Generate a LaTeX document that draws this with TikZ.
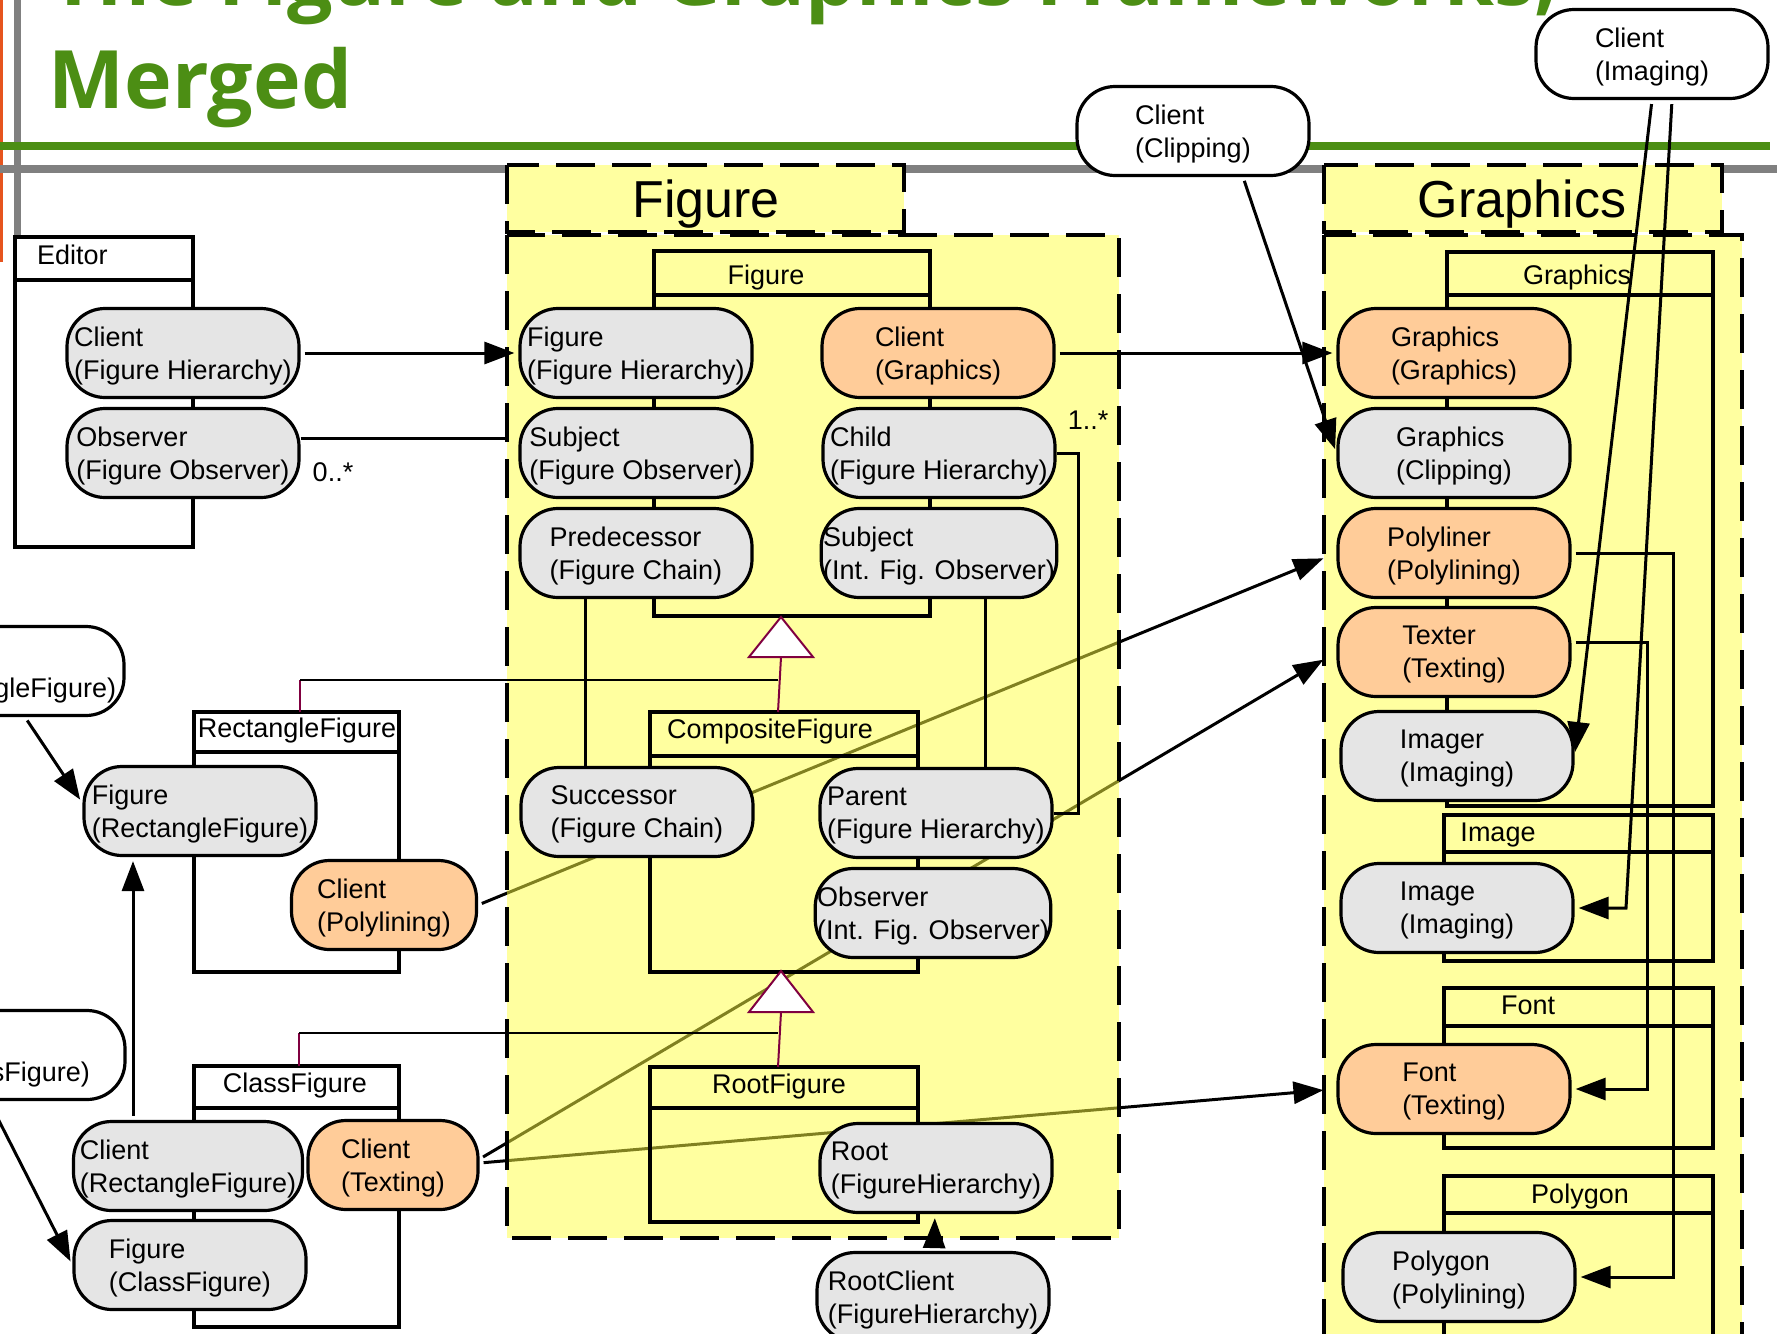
\documentclass[tikz,border=0pt]{standalone}
\usepackage{fontspec}
\setmainfont{Liberation Sans}
\newfontfamily\titlefont{Open Sans}
\usetikzlibrary{arrows.meta}
\definecolor{titlegreen}{RGB}{76,142,20}
\definecolor{rulegray}{RGB}{128,128,128}
\definecolor{ruleorange}{RGB}{230,84,30}
\definecolor{pkgyellow}{RGB}{255,255,160}
\definecolor{pkgyellowt}{RGB}{255,255,65}
\definecolor{rolegray}{RGB}{229,229,229}
\definecolor{roleorange}{RGB}{255,204,153}
\definecolor{genmaroon}{RGB}{128,0,64}
\pgfdeclarelayer{back}
\pgfdeclarelayer{mid}
\pgfsetlayers{back,mid,main}

\begin{document}
\begin{tikzpicture}
			[x=0.5pt,y=-0.5pt,every node/.style={font=\fontsize{13.5}{16.5}\selectfont},
			role/.style={draw,line width=1.6pt,rounded corners=19pt,fill=rolegray,minimum width=116pt,minimum height=44.5pt,inner sep=1pt,align=left,text depth=0pt},
			orole/.style={role,fill=roleorange}, wrole/.style={role,fill=white},
			cls/.style={draw,line width=1.6pt}, pkg/.style={draw,line width=2pt,dash pattern=on 19.5pt off 8.5pt},
			edge/.style={-{Triangle[length=15pt,width=11pt]},line width=1.5pt,shorten >=2pt,shorten <=2pt},
			assoc/.style={line width=1.5pt}, gen/.style={draw=genmaroon,line width=1pt},
			big/.style={font=\fontsize{26}{30}\selectfont}]
			\useasboundingbox (0,0) rectangle (1777,1333);

			\fill[pkgyellow] (507,165) rectangle (904,232);
			\draw[pkg] (507,165) rectangle (904,232);
			\draw[pkg] (507,235) rectangle (1119,1238);
			\draw[pkg] (1324,165) rectangle (1722,232);
			\draw[pkg] (1324,235) rectangle (1742,1345);
			\node[big] (figTitle) at (706,204) {Figure};
			\node[big] (graTitle) at (1522,204) {Graphics};

			\foreach \xa/\ya/\xb/\yh/\yb in {15/237/193/280/547,194/712/399/752/972,194/1066/399/1108/1327}
			\draw[cls,fill=white] (\xa,\ya) rectangle (\xb,\yh) (\xa,\yh) rectangle (\xb,\yb);
			\foreach \xa/\ya/\xb/\yh/\yb in {654/251/930/295/616,650/712/918/756/972,650/1067/918/1108/1222,1447/252/1713/295/806,1444/815/1713/852/961,1444/988/1713/1026/1148,1444/1176/1713/1213/1345}
			\draw[cls] (\xa,\ya) rectangle (\xb,\yh) (\xa,\yh) rectangle (\xb,\yb);

			\node[anchor=west] (edHead) at (30,255) {Editor};
			\node (figHead) at (766,278) {Figure};
			\node (compHead) at (770,732) {CompositeFigure};
			\node (rootHead) at (779,1087) {RootFigure};
			\node (rectHead) at (297,731) {RectangleFigure};
			\node (clsHead) at (295,1086) {ClassFigure};
			\node (graHead) at (1577,278) {Graphics};
			\node (imgHead) at (1498,835) {Image};
			\node (fontHead) at (1528,1005) {Font};
			\node (polyHead) at (1580,1197) {Polygon};

			\draw[gen,fill=white] (781,617) -- (813,657) -- (749,657) -- cycle;
			\draw[gen,fill=white] (781,971) -- (813,1012) -- (749,1012) -- cycle;
			\coordinate (gen1) at (781,657);
			\coordinate (gen2) at (781,1012);
			\coordinate (compTop) at (778,712);
			\coordinate (rootTop) at (778,1067);
			\coordinate (rectTop) at (300,712);
			\coordinate (clsTop) at (299,1066);
			\coordinate (rectJoin) at (300,680);
			\coordinate (compJoin) at (778,680);
			\coordinate (clsJoin) at (299,1033);
			\coordinate (rootJoin) at (778,1033);
			\draw[gen] (compTop) -- (gen1);
			\draw[gen] (rootTop) -- (gen2);
			\draw[gen] (rectTop) -- (rectJoin);
			\draw[gen] (clsTop) -- (clsJoin);
			\draw[line width=1.3pt] (rectJoin) -- (compJoin);
			\draw[line width=1.3pt] (clsJoin) -- (rootJoin);

			\draw[assoc] (585,0 |- 0,597) -- (585,0 |- 0,767);
			\draw[assoc] (985,0 |- 0,597) -- (985,0 |- 0,768);

			\node[role] (edCli) at (183,353) {Client\\(Figure Hierarchy)};
			\node[role] (edObs) at (183,453) {Observer\\(Figure Observer)};
			\node[role] (figFig) at (636,353) {Figure\\(Figure Hierarchy)};
			\node[orole] (figCli) at (938,353) {Client\\(Graphics)};
			\node[role] (figSubj) at (636,453) {Subject\\(Figure Observer)};
			\node[role] (figChild) at (939,453) {Child\\(Figure Hierarchy)};
			\node[role] (figPred) at (636,553) {Predecessor\\(Figure Chain)};
			\node[role] (figSubjInt) at (939,553) {Subject\\(Int. Fig. Observer)};
			\node[role] (cfSucc) at (637,812) {Successor\\(Figure Chain)};
			\node[role] (cfParent) at (936,813) {Parent\\(Figure Hierarchy)};
			\node[role] (cfObs) at (933,913) {Observer\\(Int. Fig. Observer)};
			\node[role] (rfRoot) at (936,1168) {Root\\(FigureHierarchy)};
			\node[role] (rootCli) at (933,1297) {RootClient\\(FigureHierarchy)};
			\node[wrole] (leftRect) at (8,671) {\vphantom{Client}\\(RectangleFigure)};
			\node[role] (rfFig) at (200,811) {Figure\\(RectangleFigure)};
			\node[orole,minimum width=92.5pt] (rfCli) at (384,905) {Client\\(Polylining)};
			\node[wrole] (leftCls) at (9,1055) {\vphantom{Client}\\(ClassFigure)};
			\node[role,minimum width=114.5pt] (cfCli) at (188,1166) {Client\\(RectangleFigure)};
			\node[orole,minimum width=85pt] (cfTex) at (393,1165) {Client\\(Texting)};
			\node[role] (cfFig) at (190,1265) {Figure\\(ClassFigure)};
			\node[wrole] (clipCli) at (1193,131) {Client\\(Clipping)};
			\node[wrole] (imgCli) at (1652,54) {Client\\(Imaging)};
			\node[orole] (gGra) at (1454,353) {Graphics\\(Graphics)};
			\node[role] (gClip) at (1454,453) {Graphics\\(Clipping)};
			\node[orole] (gPoly) at (1454,553) {Polyliner\\(Polylining)};
			\node[orole] (gTex) at (1454,652) {Texter\\(Texting)};
			\node[role] (gImg) at (1457,756) {Imager\\(Imaging)};
			\node[role] (iImg) at (1457,908) {Image\\(Imaging)};
			\node[orole] (fFont) at (1454,1089) {Font\\(Texting)};
			\node[role] (pPoly) at (1459,1277) {Polygon\\(Polylining)};

			\foreach \from/\to in {edCli/figFig,figCli/gGra,rootCli/rfRoot}
			\draw[edge] (\from) to (\to);
			\draw[assoc,shorten >=6pt] ([yshift=7.5pt]edObs.east) -- ([yshift=7.5pt]figSubj.west);
			\node (multObs) at (333,472) {0..*};
			\draw[assoc] (figChild.east) -- (1078,453) |- (cfParent.east);
			\node (multChild) at (1088,420) {1..*};
			\draw[edge] ([xshift=8.5pt]leftRect.south) -- ([yshift=4pt]rfFig.west);
			\draw[edge] ([xshift=-10pt]leftCls.south) -- (cfFig.west);
			\draw[edge] (133,0 |- cfCli.north) -- (133,0 |- rfFig.south);
			\draw[edge] ([xshift=25pt]clipCli.south) -- (gClip.west);
			\draw[edge] (imgCli.south) -- (gImg.east);
			\draw[edge] ([xshift=10pt]imgCli.south) -- (1626,908) -- (iImg.east);
			\draw[edge] ([yshift=5pt]gTex.east) -| (1647,1089) -- (fFont.east);
			\draw[edge] (gPoly.east) -| (1673,1277) -- (pPoly.east);

			\begin{pgfonlayer}{mid}
			\fill[pkgyellowt,fill opacity=0.5] (507,235) rectangle (1119,1238);
			\end{pgfonlayer}

			\begin{pgfonlayer}{back}
			\fill[white] (0,0) rectangle (1777,1333);
			\draw[ruleorange,line width=1.5pt] (1.5,0) -- (1.5,262);
			\draw[rulegray,line width=3.5pt] (17,0) -- (17,243);
			\draw[titlegreen,line width=4pt] (0,146) -- (1770,146);
			\draw[rulegray,line width=4pt] (0,169) -- (1777,169);
			\node[anchor=base west,inner sep=0,text=titlegreen,font=\titlefont\bfseries\fontsize{40.3}{47}\selectfont] (titleTop) at (50,5) {The Figure and Graphics Frameworks,};
			\node[anchor=base west,inner sep=0,text=titlegreen,font=\titlefont\bfseries\fontsize{40.3}{47}\selectfont] (titleBot) at (48,108) {Merged};
			\fill[pkgyellow] (1324,165) rectangle (1722,232);
			\fill[pkgyellow] (1324,235) rectangle (1742,1345);
			\draw[edge,shorten >=7pt] (rfCli.east) -- (gPoly.west);
			\draw[edge,shorten >=7.5pt] ([yshift=3pt]cfTex.east) -- (gTex.west);
			\draw[edge,shorten >=6.5pt] ([yshift=1pt]cfTex.east) -- (fFont.west);
			\end{pgfonlayer}

			\end{tikzpicture}
\end{document}
